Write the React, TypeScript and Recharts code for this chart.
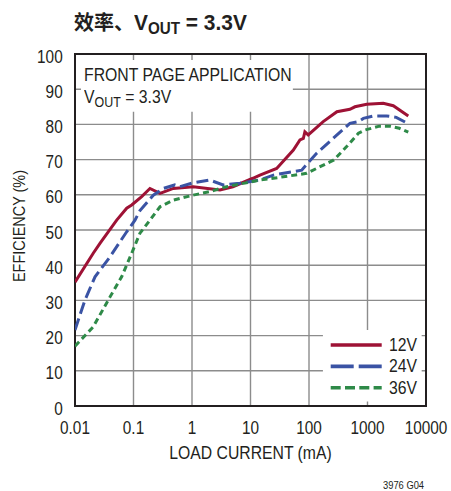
import {
  LineChart,
  Line,
  XAxis,
  YAxis,
  CartesianGrid,
  ReferenceArea,
  Legend,
  Label,
} from "recharts";

// load current (mA) and efficiency (%) for each input voltage
const current12V = [
  0.01, 0.0205, 0.0267, 0.0516, 0.0765, 0.0932, 0.138, 0.191, 0.284, 0.479, 1.05,
  3.0, 5.0, 11, 14.5, 28, 54, 70, 80, 85, 97, 175, 300, 500, 610, 970, 1860, 2760, 4980,
];
const eff12V = [
  35.2, 43.4, 46.2, 52.8, 56.2, 57.1, 59.5, 61.8, 60.4, 61.8, 62.3,
  61.4, 62.3, 64.7, 65.6, 67.5, 72.7, 75.6, 76, 77.9, 77, 80.8, 83.6, 84.3, 85, 85.7, 86, 85.3, 82.4,
];

const current24V = [
  0.01, 0.0148, 0.022, 0.0397, 0.0765, 0.106, 0.129, 0.218, 0.324, 0.51, 0.62, 1.05,
  2.0, 3.4, 6.6, 14.5, 24.6, 75, 135, 500, 700, 850, 1270, 2130, 3100, 4600,
];
const eff24V = [
  21.6, 30.1, 36.7, 42.4, 49.5, 52.8, 55.5, 59.9, 61.8, 62.8, 62.3, 63.4,
  64.2, 62.8, 63.3, 64.2, 65.6, 67, 71.8, 80.3, 80.8, 81.7, 82.4, 82.4, 82, 80.5,
];

const current36V = [
  0.01, 0.0205, 0.0397, 0.0627, 0.0932, 0.129, 0.191, 0.284, 0.479, 1.05, 2.0, 3.9,
  14.5, 24.6, 91, 266, 440, 700, 900, 1600, 2400, 3500, 4980,
];
const eff36V = [
  17, 22.5, 31, 36.7, 43.4, 49.1, 52.8, 56.6, 58.5, 59.9, 60.9, 62.3,
  64.2, 64.7, 66.1, 69.9, 73.7, 77.5, 78.4, 79.5, 79.5, 78.9, 77.8,
];

const xTicks = [0.01, 0.1, 1, 10, 100, 1000, 10000];
const yTicks = [0, 10, 20, 30, 40, 50, 60, 70, 80, 90, 100];

const zip = (xs: number[], ys: number[]) => xs.map((x, i) => ({ x, y: ys[i] }));

const FONT = '"Liberation Sans", Arial, "Noto Sans CJK SC", sans-serif';
const INK = "#231f20";
const GRID = "#8c8c8c";
// no condensed face is installed, so text is narrowed horizontally
const SQUEEZE = 0.83;

const series = [
  { name: "12V", data: zip(current12V, eff12V), color: "#9e1235", dash: undefined, legendDash: undefined },
  { name: "24V", data: zip(current24V, eff24V), color: "#3a53a4", dash: "12 5", legendDash: "23 5" },
  { name: "36V", data: zip(current36V, eff36V), color: "#2e8a48", dash: "6 4", legendDash: "10 4.3" },
];

type CondProps = {
  x: number;
  y: number;
  size: number;
  anchor?: "start" | "middle" | "end";
  squeeze?: number;
  rotate?: number;
  children: React.ReactNode;
};

function Cond({ x, y, size, anchor = "start", squeeze = SQUEEZE, rotate = 0, children }: CondProps) {
  return (
    <text
      transform={`translate(${x} ${y}) rotate(${rotate}) scale(${squeeze} 1)`}
      textAnchor={anchor}
      fontSize={size}
      fontFamily={FONT}
      fill={INK}
    >
      {children}
    </text>
  );
}

function XTick({ x, y, payload }: any) {
  return (
    <Cond x={x} y={y + 28} size={18.5} anchor="middle">
      {String(payload.value)}
    </Cond>
  );
}

function YTick({ x, y, payload }: any) {
  return (
    <Cond x={x - 12.3} y={y + 8.5} size={18.5} anchor="end">
      {String(payload.value)}
    </Cond>
  );
}

function LegendBox() {
  return (
    <svg width={103} height={76} style={{ display: "block", overflow: "visible" }}>
      {series.map((s, i) => {
        const y = 15 + i * 21.4;
        return (
          <g key={s.name}>
            <line x1={7.7} x2={58.7} y1={y} y2={y} stroke={s.color} strokeWidth={3.6} strokeDasharray={s.legendDash} />
            <Cond x={66} y={y + 5.8} size={19}>
              {s.name}
            </Cond>
          </g>
        );
      })}
    </svg>
  );
}

export default function App() {
  return (
    <div style={{ position: "absolute", left: 0, top: 0, width: 451, height: 491, background: "#fff", fontFamily: FONT, color: INK }}>
      <div style={{ position: "absolute", left: 74, top: 7, fontWeight: 700, whiteSpace: "nowrap", lineHeight: "30px" }}>
        <span style={{ fontSize: 20, fontFamily: '"Noto Sans CJK SC", sans-serif' }}>效率、</span>
        <span style={{ display: "inline-block", fontSize: 22, transform: "scaleX(0.95)", transformOrigin: "left" }}>
          V<span style={{ fontSize: 16, position: "relative", top: 4 }}>OUT</span> = 3.3V
        </span>
      </div>
      <LineChart width={451} height={491} margin={{ top: 54, right: 25, bottom: 0, left: 0 }}>
        <CartesianGrid stroke={GRID} strokeWidth={1.4} />
        <XAxis
          dataKey="x"
          type="number"
          scale="log"
          domain={[0.01, 10000]}
          ticks={xTicks}
          allowDataOverflow
          height={85}
          tickSize={0}
          tickMargin={0}
          axisLine={false}
          tick={<XTick />}
        >
          <Label
            content={({ viewBox }: any) => (
              <Cond x={viewBox.x + viewBox.width / 2} y={viewBox.y + 52.5} size={19} anchor="middle">
                LOAD CURRENT (mA)
              </Cond>
            )}
          />
        </XAxis>
        <YAxis
          type="number"
          domain={[0, 100]}
          ticks={yTicks}
          width={75}
          tickSize={0}
          tickMargin={0}
          axisLine={false}
          tick={<YTick />}
        >
          <Label
            content={() => (
              <Cond x={25} y={226} size={17} anchor="middle" squeeze={0.85} rotate={-90}>
                EFFICIENCY (%)
              </Cond>
            )}
          />
        </YAxis>
        {/* white panels behind the note and the key; the grid shows through as short ticks at the frame */}
        <ReferenceArea x1={0.01266} x2={53} y1={83.6} y2={98.3} fill="#fff" fillOpacity={1} stroke="none" />
        <ReferenceArea x1={173} x2={8430} y1={1.3} y2={21.6} fill="#fff" fillOpacity={1} stroke="none" />
        <ReferenceArea x1={0.01} x2={10000} y1={0} y2={100} fill="none" stroke={INK} strokeWidth={2} />
        {series.map((s) => (
          <Line
            key={s.name}
            data={s.data}
            dataKey="y"
            name={s.name}
            type="linear"
            stroke={s.color}
            strokeWidth={3}
            strokeDasharray={s.dash}
            dot={false}
            activeDot={false}
            isAnimationActive={false}
          />
        ))}
        <Legend
          layout="horizontal"
          align="center"
          verticalAlign="middle"
          content={() => <LegendBox />}
          wrapperStyle={{ position: "absolute", left: 323, top: 330, width: 103, height: 76 }}
        />
      </LineChart>
      <div
        style={{
          position: "absolute",
          left: 84,
          top: 63.5,
          fontSize: 19,
          lineHeight: "22px",
          whiteSpace: "nowrap",
          transform: `scaleX(${SQUEEZE})`,
          transformOrigin: "left top",
        }}
      >
        <div>FRONT PAGE APPLICATION</div>
        <div>
          V<span style={{ fontSize: 15, position: "relative", top: 4 }}>OUT</span> = 3.3V
        </div>
      </div>
      <div style={{ position: "absolute", left: 383, top: 478.5, fontSize: 11, whiteSpace: "nowrap", transform: "scaleX(0.85)", transformOrigin: "left top" }}>
        3976 G04
      </div>
    </div>
  );
}
